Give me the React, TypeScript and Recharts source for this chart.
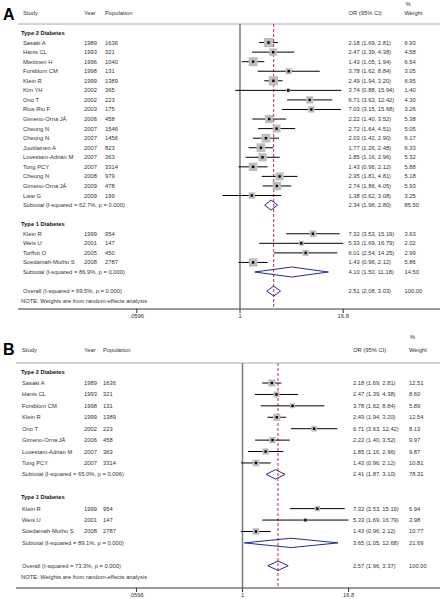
import { ScatterChart, Scatter, XAxis, YAxis, ErrorBar, ReferenceLine } from 'recharts'

const FONT = '"Liberation Sans", Arial, sans-serif'
const TXT = '#333'

// ---------- Panel A: all studies ----------
const A_T2_STUDY = ['Sasaki A', 'Hanis CL', 'Miettinen H', 'Forsblom CM', 'Klein R', 'Kim YH', 'Ono T', 'Rius Riu F', 'Gimeno-Orna JÁ', 'Cheung N', 'Cheung N', 'Juutilainen A', 'Lovestam-Adrian M', 'Tong PCY', 'Cheung N', 'Gimeno-Orna JÁ', 'Liew G']
const A_T2_YEAR = [1989, 1993, 1996, 1998, 1999, 2002, 2002, 2003, 2006, 2007, 2007, 2007, 2007, 2007, 2008, 2009, 2009]
const A_T2_POP = [1636, 321, 1040, 131, 1389, 365, 223, 175, 458, 1546, 1456, 823, 363, 3314, 979, 478, 199]
const A_T2_OR = [2.18, 2.47, 1.43, 3.78, 2.49, 3.74, 6.71, 7.03, 2.22, 2.72, 2.03, 1.77, 1.85, 1.43, 2.95, 2.74, 1.38]
const A_T2_LO = [1.69, 1.39, 1.05, 1.62, 1.94, 0.88, 3.63, 3.15, 1.4, 1.64, 1.42, 1.26, 1.16, 0.96, 1.81, 1.86, 0.62]
const A_T2_HI = [2.81, 4.38, 1.94, 8.84, 3.2, 15.94, 12.42, 15.68, 3.52, 4.51, 2.9, 2.48, 2.96, 2.12, 4.81, 4.05, 3.08]
const A_T2_W = [6.93, 4.58, 6.54, 3.05, 6.95, 1.4, 4.3, 3.26, 5.38, 5.05, 6.17, 6.33, 5.32, 5.88, 5.18, 5.93, 3.25]

const A_T1_STUDY = ['Klein R', 'Weis U', 'Torffvit O', 'Soedamah-Muthu S']
const A_T1_YEAR = [1999, 2001, 2005, 2008]
const A_T1_POP = [954, 147, 450, 2787]
const A_T1_OR = [7.32, 5.33, 6.01, 1.43]
const A_T1_LO = [3.53, 1.69, 2.54, 0.96]
const A_T1_HI = [15.19, 16.79, 14.25, 2.12]
const A_T1_W = [3.63, 2.02, 2.99, 5.86]

// subtotal T2, subtotal T1, overall
const A_SUM_LABEL = ['Subtotal  (I-squared = 62.7%, p = 0.000)', 'Subtotal  (I-squared = 86.9%, p = 0.000)', 'Overall  (I-squared = 69.5%, p = 0.000)']
const A_SUM_OR = [2.34, 4.1, 2.51]
const A_SUM_LO = [1.96, 1.5, 2.08]
const A_SUM_HI = [2.8, 11.18, 3.03]
const A_SUM_W = [85.5, 14.5, 100.0]

// ---------- Panel B: subset ----------
const B_T2_STUDY = ['Sasaki A', 'Hanis CL', 'Forsblom CM', 'Klein R', 'Ono T', 'Gimeno-Orna JÁ', 'Lovestam-Adrian M', 'Tong PCY']
const B_T2_YEAR = [1989, 1993, 1998, 1999, 2002, 2006, 2007, 2007]
const B_T2_POP = [1636, 321, 131, 1389, 223, 458, 363, 3314]
const B_T2_OR = [2.18, 2.47, 3.78, 2.49, 6.71, 2.22, 1.85, 1.43]
const B_T2_LO = [1.69, 1.39, 1.62, 1.94, 3.63, 1.4, 1.16, 0.96]
const B_T2_HI = [2.81, 4.38, 8.84, 3.2, 12.42, 3.52, 2.96, 2.12]
const B_T2_W = [12.51, 8.6, 5.89, 12.54, 8.13, 9.97, 9.87, 10.81]

const B_T1_STUDY = ['Klein R', 'Weis U', 'Soedamah-Muthu S']
const B_T1_YEAR = [1999, 2001, 2008]
const B_T1_POP = [954, 147, 2787]
const B_T1_OR = [7.32, 5.33, 1.43]
const B_T1_LO = [3.53, 1.69, 0.96]
const B_T1_HI = [15.19, 16.79, 2.12]
const B_T1_W = [6.94, 3.98, 10.77]

const B_SUM_LABEL = ['Subtotal  (I-squared = 65.0%, p = 0.006)', 'Subtotal  (I-squared = 89.1%, p = 0.000)', 'Overall  (I-squared = 73.3%, p = 0.000)']
const B_SUM_OR = [2.41, 3.65, 2.57]
const B_SUM_LO = [1.87, 1.05, 1.96]
const B_SUM_HI = [3.1, 12.68, 3.37]
const B_SUM_W = [78.31, 21.69, 100.0]

const GROUPS = ['Type 2 Diabetes', 'Type 1 Diabetes']
const NOTE = 'NOTE: Weights are from random-effects analysis'
const X_TICKS = [0.0596, 1, 16.8]
const X_TICK_LABELS = ['.0596', '1', '16.8']

type Row = {
  i: number
  kind: 'head' | 'group' | 'study' | 'sub' | 'overall' | 'note'
  label: string
  year?: number
  pop?: number
  or?: number
  lo?: number
  hi?: number
  w?: number
}

type Grp = { study: string[]; year: number[]; pop: number[]; or: number[]; lo: number[]; hi: number[]; w: number[] }

function buildRows(groups: Grp[], sLabel: string[], sOr: number[], sLo: number[], sHi: number[], sW: number[]): Row[] {
  const rows: Row[] = []
  let i = 0
  groups.forEach((g, gi) => {
    rows.push({ i: i++, kind: 'group', label: GROUPS[gi] })
    g.study.forEach((name, k) => {
      rows.push({ i: i++, kind: 'study', label: name, year: g.year[k], pop: g.pop[k], or: g.or[k], lo: g.lo[k], hi: g.hi[k], w: g.w[k] })
    })
    rows.push({ i: i++, kind: 'sub', label: sLabel[gi], or: sOr[gi], lo: sLo[gi], hi: sHi[gi], w: sW[gi] })
    i++ // empty line
  })
  rows.push({ i: i++, kind: 'overall', label: sLabel[2], or: sOr[2], lo: sLo[2], hi: sHi[2], w: sW[2] })
  rows.push({ i: i++, kind: 'note', label: NOTE })
  return rows
}

const rowsA = buildRows(
  [
    { study: A_T2_STUDY, year: A_T2_YEAR, pop: A_T2_POP, or: A_T2_OR, lo: A_T2_LO, hi: A_T2_HI, w: A_T2_W },
    { study: A_T1_STUDY, year: A_T1_YEAR, pop: A_T1_POP, or: A_T1_OR, lo: A_T1_LO, hi: A_T1_HI, w: A_T1_W },
  ],
  A_SUM_LABEL, A_SUM_OR, A_SUM_LO, A_SUM_HI, A_SUM_W,
)
const rowsB = buildRows(
  [
    { study: B_T2_STUDY, year: B_T2_YEAR, pop: B_T2_POP, or: B_T2_OR, lo: B_T2_LO, hi: B_T2_HI, w: B_T2_W },
    { study: B_T1_STUDY, year: B_T1_YEAR, pop: B_T1_POP, or: B_T1_OR, lo: B_T1_LO, hi: B_T1_HI, w: B_T1_W },
  ],
  B_SUM_LABEL, B_SUM_OR, B_SUM_LO, B_SUM_HI, B_SUM_W,
)

// layout in page pixels
type Cfg = {
  letter: string
  top: number
  height: number
  rowTop: number
  rowStep: number
  axisY: number
  xOne: number
  pxPerLn: number
  xLeft: number
  headerY: number
  pctY: number
  lineY: number
  letterY: number
  cStudy: number
  cGroup: number
  cYear: number
  cPop: number
  cOr: number
  cW: number
  boxK: number
  diamondHalf: number
}

const cfgA: Cfg = {
  letter: 'A', top: 0, height: 330, rowTop: 33, rowStep: 9.56, axisY: 309,
  xOne: 240, pxPerLn: 36.6, xLeft: 18,
  headerY: 13, pctY: 4, lineY: 24, letterY: 15,
  cStudy: 23, cGroup: 21, cYear: 84, cPop: 105, cOr: 348.5, cW: 404.5,
  boxK: 3.5, diamondHalf: 5,
}
const cfgB: Cfg = {
  letter: 'B', top: 330, height: 269, rowTop: 371.6, rowStep: 11.42, axisY: 588,
  xOne: 242.5, pxPerLn: 37.6, xLeft: 16,
  headerY: 350, pctY: 337, lineY: 363, letterY: 350,
  cStudy: 22, cGroup: 21, cYear: 84, cPop: 103, cOr: 353, cW: 409,
  boxK: 2, diamondHalf: 4.7,
}

const fmtCI = (r: Row) => `${r.or!.toFixed(2)} (${r.lo!.toFixed(2)}, ${r.hi!.toFixed(2)})`

function T({ x, y, children, bold, size = 5.8, color = TXT }: any) {
  return (
    <text x={x} y={y} fontSize={size} fill={color} fontFamily={FONT} fontWeight={bold ? 'bold' : 'normal'} dominantBaseline="central" textAnchor="start">
      {children}
    </text>
  )
}

function Panel({ rows, cfg }: { rows: Row[]; cfg: Cfg }) {
  const toRow = (py: number) => (py - cfg.rowTop) / cfg.rowStep
  const yDomain = [toRow(cfg.top), toRow(cfg.axisY)]
  const xDomain = [Math.exp((cfg.xLeft - cfg.xOne) / cfg.pxPerLn), Math.exp((440 - cfg.xOne) / cfg.pxPerLn)]
  const headerRow = toRow(cfg.headerY)
  const lineRow = toRow(cfg.lineY)
  const xAxisH = cfg.height - (cfg.axisY - cfg.top)
  const half = cfg.diamondHalf / cfg.rowStep

  const studies = rows
    .filter((r) => r.kind === 'study')
    .map((r) => ({ x: r.or!, y: r.i, w: r.w!, err: [r.or! - r.lo!, r.hi! - r.or!] }))
  const diamonds = rows
    .filter((r) => r.kind === 'sub' || r.kind === 'overall')
    .map((r) => [
      { x: r.lo!, y: r.i },
      { x: r.or!, y: r.i - half },
      { x: r.hi!, y: r.i },
      { x: r.or!, y: r.i + half },
      { x: r.lo!, y: r.i },
    ])
  const overall = rows.find((r) => r.kind === 'overall')!

  // text table rows, anchored on the y scale (x is just a placeholder inside the domain)
  const labels = [{ x: 1, y: headerRow, row: { i: headerRow, kind: 'head', label: '' } as Row }, ...rows.map((r) => ({ x: 1, y: r.i, row: r }))]

  const labelShape = (p: any) => {
    const r: Row = p.payload.row
    const y = p.cy
    if (r.kind === 'head') {
      return (
        <g>
          <T x={cfg.cStudy} y={y}>Study</T>
          <T x={cfg.cYear} y={y}>Year</T>
          <T x={cfg.cPop} y={y}>Population</T>
          <T x={cfg.cOr} y={y}>OR (95% CI)</T>
          <T x={cfg.cW + 1} y={y + (cfg.pctY - cfg.headerY)}>%</T>
          <T x={cfg.cW} y={y}>Weight</T>
        </g>
      )
    }
    if (r.kind === 'group') return <T x={cfg.cGroup} y={y} bold color="#111">{r.label}</T>
    if (r.kind === 'note') return <T x={cfg.cGroup} y={y}>{r.label}</T>
    return (
      <g>
        <T x={cfg.cStudy} y={y}>{r.label}</T>
        {r.kind === 'study' && <T x={cfg.cYear} y={y}>{r.year}</T>}
        {r.kind === 'study' && <T x={cfg.cPop} y={y}>{r.pop}</T>}
        <T x={cfg.cOr} y={y}>{fmtCI(r)}</T>
        <T x={cfg.cW} y={y}>{r.w!.toFixed(2)}</T>
      </g>
    )
  }

  const box = (p: any) => {
    const s = cfg.boxK * Math.sqrt(p.payload.w)
    return <rect x={p.cx - s / 2} y={p.cy - s / 2} width={s} height={s} fill="#bdbdbd" />
  }
  const dot = (p: any) => <rect x={p.cx - 1.2} y={p.cy - 1.2} width={2.4} height={2.4} fill="#000" />
  const none = () => <g />

  return (
    <div style={{ position: 'relative', width: 440, height: cfg.height }}>
      <div
        style={{
          position: 'absolute',
          left: 3,
          top: cfg.letterY - cfg.top - 9,
          fontFamily: FONT,
          fontWeight: 'bold',
          fontSize: 16,
          lineHeight: '18px',
          color: '#000',
        }}
      >
        {cfg.letter}
      </div>
      <ScatterChart width={440} height={cfg.height} margin={{ top: 0, right: 0, bottom: 0, left: cfg.xLeft }}>
        <XAxis
          type="number"
          dataKey="x"
          scale="log"
          domain={xDomain}
          allowDataOverflow
          ticks={X_TICKS}
          interval={0}
          tickFormatter={(v: number) => X_TICK_LABELS[X_TICKS.indexOf(v)] ?? String(v)}
          height={xAxisH}
          tickSize={4}
          tickMargin={1}
          axisLine={{ stroke: '#7a7a7a', strokeWidth: 1.4 }}
          tickLine={{ stroke: '#333' }}
          tick={{ fontSize: 5.8, fill: TXT, fontFamily: FONT }}
        />
        <YAxis type="number" dataKey="y" domain={yDomain} reversed allowDataOverflow width={0} hide />
        <ReferenceLine y={lineRow} stroke="#d4d4d4" strokeWidth={2} ifOverflow="visible" />
        <ReferenceLine
          segment={[{ x: 1, y: lineRow }, { x: 1, y: yDomain[1] }]}
          stroke="#7a7a7a"
          strokeWidth={1.5}
          ifOverflow="visible"
        />
        <ReferenceLine
          segment={[{ x: overall.or!, y: lineRow }, { x: overall.or!, y: yDomain[1] }]}
          stroke="#a8323a"
          strokeWidth={1}
          strokeDasharray="3 2"
          ifOverflow="visible"
        />
        <Scatter data={labels} shape={labelShape} isAnimationActive={false} />
        <Scatter data={studies} shape={box} isAnimationActive={false} />
        <Scatter data={studies} shape={dot} fill="#000" isAnimationActive={false}>
          <ErrorBar dataKey="err" direction="x" width={0} stroke="#000" strokeWidth={1} />
        </Scatter>
        {diamonds.map((d, k) => (
          <Scatter
            key={k}
            data={d}
            shape={none}
            fill="#1f2a9a"
            line={{ stroke: '#1f2a9a', strokeWidth: 1 }}
            lineType="joint"
            isAnimationActive={false}
          />
        ))}
      </ScatterChart>
    </div>
  )
}

export default function App() {
  return (
    <div style={{ position: 'absolute', left: 0, top: 0, width: 440, height: 599, background: '#fff' }}>
      <div style={{ position: 'absolute', left: 0, top: cfgA.top }}>
        <Panel rows={rowsA} cfg={cfgA} />
      </div>
      <div style={{ position: 'absolute', left: 0, top: cfgB.top }}>
        <Panel rows={rowsB} cfg={cfgB} />
      </div>
    </div>
  )
}
